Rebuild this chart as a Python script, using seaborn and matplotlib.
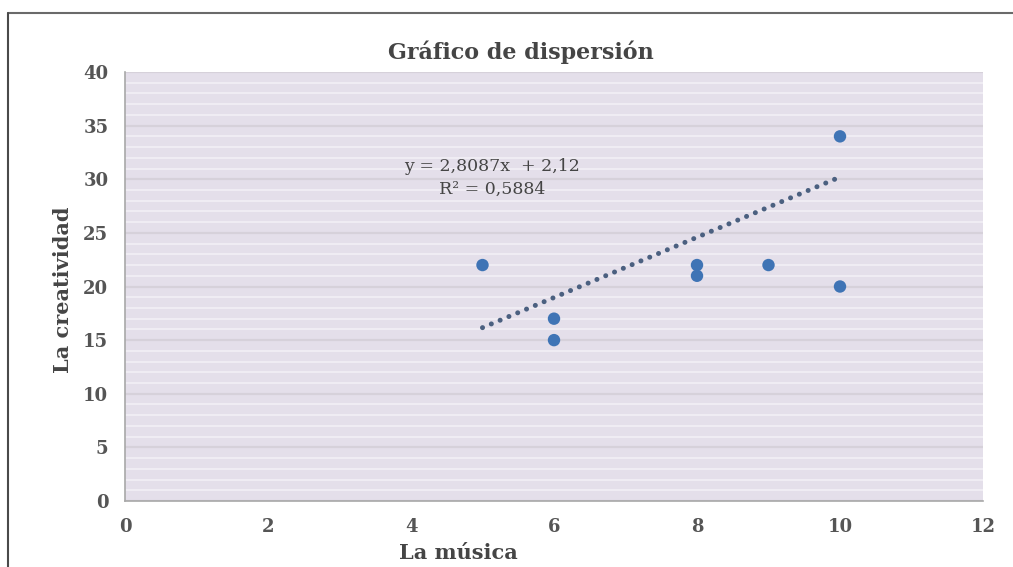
import numpy as np
import pandas as pd
import matplotlib
matplotlib.use("Agg")
import matplotlib.pyplot as plt
import seaborn as sns
from matplotlib.lines import Line2D

# ── Data ────────────────────────────────────────────────────────────────────
musica = [5, 6, 6, 8, 8, 9, 10, 10]
creatividad = [22, 17, 15, 22, 21, 22, 34, 20]
slope, intercept = 2.8087, 2.12
r2_text = "0,5884"
x_ticks = [0, 2, 4, 6, 8, 10, 12]
y_ticks = [0, 5, 10, 15, 20, 25, 30, 35, 40]

df = pd.DataFrame({"La música": musica, "La creatividad": creatividad})
trend_x = [min(musica), max(musica)]
trend = pd.DataFrame({"x": trend_x, "y": [slope * v + intercept for v in trend_x]})

sns.set_theme(style="white")
plt.rcParams["font.family"] = ["DejaVu Serif"]

fig = plt.figure(figsize=(10.13, 5.67), dpi=100)
ax = fig.add_axes([125 / 1013, 66 / 567, 858 / 1013, 429 / 567])
ax.set_facecolor("#e4dfea")

# minor (every 1) and major (every 5) horizontal gridlines
ax.set_yticks(np.arange(0, 41, 1), minor=True)
ax.grid(axis="y", which="minor", color="#f2eff5", linewidth=1.2)
ax.grid(axis="y", which="major", color="#d6d1da", linewidth=1.6)
ax.set_axisbelow(True)

sns.lineplot(data=trend, x="x", y="y", ax=ax, color="#4b6080",
             linestyle=(0, (0.01, 1.9)), linewidth=3.6, dash_capstyle="round",
             zorder=3)
sns.scatterplot(data=df, x="La música", y="La creatividad", ax=ax,
                color="#3f74b5", s=80, edgecolor="none", zorder=4)

ax.set_xlim(0, 12)
ax.set_ylim(0, 40)
ax.set_xticks(x_ticks)
ax.set_yticks(y_ticks)
ax.tick_params(axis="both", which="major", length=5, width=1, color="#a0a0a0",
               labelsize=13, labelcolor="#555555", direction="out", pad=7)
ax.tick_params(axis="y", which="minor", length=0)
for lab in ax.get_xticklabels() + ax.get_yticklabels():
    lab.set_fontweight("bold")

for side in ["top", "right"]:
    ax.spines[side].set_visible(False)
for side in ["left", "bottom"]:
    ax.spines[side].set_color("#a8a8a8")
    ax.spines[side].set_linewidth(1.2)

ax.set_xlabel("")
ax.set_ylabel("")

ax.text(5.13, 30.1, f"y = {slope:.4f}x  + {intercept:.2f}".replace(".", ",")
        + f"\nR² = {r2_text}", ha="center", va="center", fontsize=12.5,
        color="#454545", linespacing=1.45)

fig.text(521 / 1013, 1 - 52 / 567, "Gráfico de dispersión", ha="center",
         va="center", fontsize=16, fontweight="bold", color="#454545")
fig.text(458 / 1013, 1 - 553 / 567, "La música", ha="center", va="center",
         fontsize=15, fontweight="bold", color="#454545")
fig.text(63 / 1013, 1 - 290 / 567, "La creatividad", ha="center", va="center",
         rotation=90, fontsize=15, fontweight="bold", color="#454545")

# outer chart border (top and left edges visible)
fig.add_artist(Line2D([8 / 1013, 1], [1 - 13 / 567] * 2, color="#6a6a6a", linewidth=1.5))
fig.add_artist(Line2D([8 / 1013] * 2, [0, 1 - 13 / 567], color="#4a4a4a", linewidth=1.5))

fig.savefig("out.png", dpi=100)
